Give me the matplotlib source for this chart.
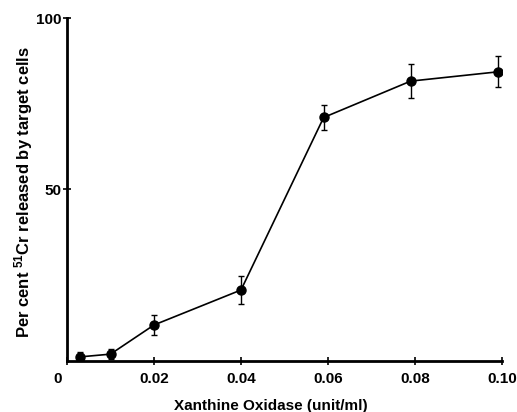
import matplotlib
matplotlib.use('Agg')
import matplotlib.pyplot as plt
import matplotlib.transforms as mtransforms

# data
dose = [0.003, 0.010, 0.020, 0.040, 0.059, 0.079, 0.099]
release = [1.2, 2.0, 10.5, 20.7, 71.0, 81.6, 84.3]
err = [1.3, 1.5, 2.8, 4.0, 3.7, 5.0, 4.5]

xticks = [0, 0.02, 0.04, 0.06, 0.08, 0.10]
xticklabels = ['0', '0.02', '0.04', '0.06', '0.08', '0.10']
yticks = [50, 100]

plt.rcParams['font.family'] = ['Liberation Sans', 'DejaVu Sans']
plt.rcParams['font.weight'] = 'bold'
plt.rcParams['mathtext.fontset'] = 'custom'
plt.rcParams['mathtext.rm'] = 'Liberation Sans:bold'
plt.rcParams['mathtext.bf'] = 'Liberation Sans:bold'
plt.rcParams['mathtext.default'] = 'rm'

fig = plt.figure(figsize=(5.17, 4.12), dpi=100)
ax = fig.add_axes([0.1296, 0.1238, 0.8414, 0.8325])

ax.errorbar(dose, release, yerr=err, fmt='o-', color='black', ms=6.5,
            lw=1.2, elinewidth=1.0, capsize=2.5, capthick=1.0)

ax.set_xlim(0, 0.10)
ax.set_ylim(0, 100)
ax.spines['top'].set_visible(False)
ax.spines['right'].set_visible(False)
for s in ['left', 'bottom']:
    ax.spines[s].set_linewidth(2.0)

ax.set_xticks(xticks)
ax.set_xticklabels(xticklabels)
ax.set_yticks(yticks)
ax.tick_params(direction='inout', length=6, width=1.2, labelsize=11, pad=5)
ax.tick_params(axis='y', pad=1)

# the origin "0" sits a bit left of the axis
lab0 = ax.get_xticklabels()[0]
lab0.set_transform(lab0.get_transform() +
                   mtransforms.ScaledTranslation(-9 / 100, 0, fig.dpi_scale_trans))

ax.set_xlabel('Xanthine Oxidase (unit/ml)', fontsize=11, fontweight='bold')
ax.set_ylabel(r'Per cent $^{51}$Cr released by target cells', fontsize=12,
              fontweight='bold')
ax.xaxis.set_label_coords(0.469, -0.112)
ax.yaxis.set_label_coords(-0.073, 0.493)

fig.savefig('out.png', dpi=100)
